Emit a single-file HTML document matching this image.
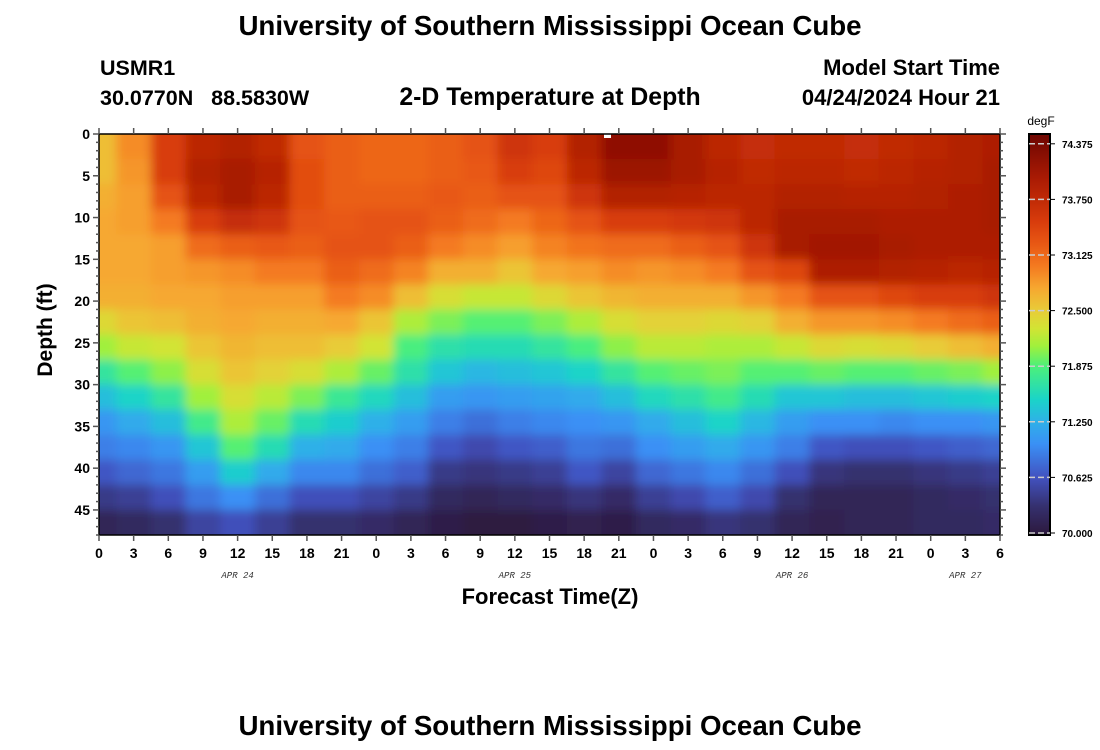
<!DOCTYPE html>
<html><head><meta charset="utf-8">
<style>
body{margin:0;background:#fff;}
svg{display:block;font-family:"Liberation Sans",sans-serif;}
</style></head>
<body>
<svg id="chart" width="1100" height="750" viewBox="0 0 1100 750" xmlns="http://www.w3.org/2000/svg">
<defs>
<clipPath id="plotclip"><rect x="99" y="134" width="901" height="401"/></clipPath>
<filter id="smooth" x="-5%" y="-5%" width="110%" height="110%"><feGaussianBlur stdDeviation="5"/></filter>
</defs>
<text x="550" y="35" text-anchor="middle" font-size="27.7" font-weight="bold">University of Southern Mississippi Ocean Cube</text>
<text x="100" y="75" font-size="21.5" font-weight="bold">USMR1</text>
<text x="100" y="105" font-size="21.5" font-weight="bold" xml:space="preserve">30.0770N   88.5830W</text>
<text x="550" y="105" text-anchor="middle" font-size="24.8" font-weight="bold">2-D Temperature at Depth</text>
<text x="1000" y="75" text-anchor="end" font-size="22" font-weight="bold">Model Start Time</text>
<text x="1000" y="105" text-anchor="end" font-size="22" font-weight="bold">04/24/2024 Hour 21</text>
<g clip-path="url(#plotclip)"><g id="cells" filter="url(#smooth)"></g></g>
<rect x="604" y="134" width="7" height="4" fill="#fff"/>
<rect x="99" y="134" width="901" height="401" fill="none" stroke="#000" stroke-width="1.5"/>
<g id="axes"></g>
<text transform="translate(52,330) rotate(-90)" text-anchor="middle" font-size="21" font-weight="bold">Depth (ft)</text>
<text x="550" y="604" text-anchor="middle" font-size="22" font-weight="bold">Forecast Time(Z)</text>
<g id="cbar"></g>
<text x="1041" y="125" text-anchor="middle" font-size="12">degF</text>
<text x="550" y="735" text-anchor="middle" font-size="27.7" font-weight="bold">University of Southern Mississippi Ocean Cube</text>
</svg>
<script>
const hours = [0,3,6,9,12,15,18,21,24,27,30,33,36,39,42,45,48,51,54,57,60,63,66,69,72,75,78];
const depths = [1.5,4.5,7.5,10.5,13.5,16.5,19.5,22.5,25.5,28.5,31.5,34.5,37.5,40.5,43.5,46.5];
const temps = [
[72.6,72.6,72.7,72.75,72.75,72.75,72.7,72.4,72.1,71.7,71.35,71.05,70.9,70.65,70.4,70.15],
[72.9,72.85,72.8,72.8,72.75,72.75,72.7,72.55,72.25,71.9,71.5,71.2,70.95,70.75,70.45,70.2],
[73.5,73.5,73.3,73.0,72.8,72.8,72.75,72.6,72.3,72.05,71.7,71.35,71.05,70.85,70.6,70.3],
[73.8,73.9,73.8,73.5,73.1,72.85,72.75,72.7,72.55,72.35,72.1,71.8,71.4,71.1,70.85,70.5],
[73.9,74.0,74.0,73.7,73.2,72.9,72.8,72.75,72.65,72.55,72.35,72.15,71.9,71.45,71.0,70.6],
[73.75,73.85,73.8,73.6,73.25,73.0,72.8,72.7,72.6,72.45,72.2,71.95,71.6,71.2,70.8,70.45],
[73.3,73.35,73.35,73.3,73.2,73.0,72.8,72.7,72.6,72.35,72.0,71.6,71.25,70.95,70.6,70.3],
[73.2,73.2,73.2,73.25,73.3,73.2,73.0,72.75,72.5,72.15,71.75,71.45,71.2,70.95,70.6,70.3],
[73.15,73.15,73.2,73.3,73.3,73.1,72.9,72.55,72.3,71.95,71.55,71.25,71.0,70.8,70.5,70.25],
[73.15,73.15,73.2,73.3,73.2,72.95,72.6,72.15,71.85,71.65,71.35,71.1,70.9,70.7,70.4,70.15],
[73.2,73.2,73.25,73.2,73.0,72.7,72.35,72.0,71.65,71.4,71.1,70.9,70.65,70.4,70.2,70.05],
[73.3,73.25,73.2,73.1,72.9,72.7,72.25,71.9,71.6,71.3,71.05,70.8,70.55,70.35,70.15,70.0],
[73.6,73.5,73.3,73.0,72.8,72.55,72.25,71.9,71.6,71.35,71.1,70.9,70.65,70.4,70.2,70.0],
[73.5,73.4,73.3,73.15,72.95,72.75,72.4,72.0,71.7,71.4,71.15,70.95,70.7,70.45,70.25,70.05],
[73.9,73.8,73.6,73.3,73.05,72.8,72.55,72.15,71.85,71.5,71.2,71.0,70.85,70.65,70.35,70.1],
[74.2,74.1,73.9,73.5,73.1,72.9,72.65,72.35,72.05,71.7,71.35,71.05,70.8,70.5,70.25,70.05],
[74.2,74.1,73.9,73.5,73.1,72.85,72.7,72.45,72.2,71.9,71.55,71.2,71.0,70.75,70.45,70.2],
[74.0,74.0,73.85,73.55,73.2,72.9,72.7,72.45,72.2,71.95,71.65,71.35,71.1,70.85,70.55,70.25],
[73.8,73.85,73.8,73.6,73.3,73.0,72.7,72.4,72.15,72.0,71.8,71.5,71.2,70.95,70.7,70.35],
[73.7,73.75,73.8,73.8,73.6,73.3,72.85,72.45,72.15,71.9,71.6,71.3,71.05,70.8,70.55,70.3],
[73.75,73.8,73.9,74.0,74.0,73.4,73.0,72.7,72.25,71.9,71.4,71.1,70.9,70.6,70.3,70.15],
[73.75,73.8,73.9,74.0,74.05,73.95,73.3,72.85,72.4,71.95,71.4,71.0,70.65,70.35,70.15,70.1],
[73.7,73.75,73.85,74.0,74.05,73.95,73.3,72.85,72.35,71.9,71.35,71.0,70.6,70.3,70.15,70.15],
[73.75,73.8,73.85,73.95,74.0,73.9,73.4,72.9,72.4,71.9,71.35,70.95,70.6,70.3,70.15,70.15],
[73.8,73.85,73.9,73.95,73.95,73.85,73.5,73.0,72.5,71.95,71.4,71.0,70.65,70.35,70.2,70.2],
[73.9,73.9,73.95,73.95,73.95,73.8,73.5,73.1,72.6,72.0,71.45,71.0,70.7,70.4,70.25,70.2],
[73.95,74.0,74.0,74.0,73.95,73.85,73.6,73.2,72.7,72.1,71.5,71.05,70.75,70.45,70.3,70.25]
];
const xTickHours = [0,3,6,9,12,15,18,21,24,27,30,33,36,39,42,45,48,51,54,57,60,63,66,69,72,75,78];
const xTickLabels = ["0","3","6","9","12","15","18","21","0","3","6","9","12","15","18","21","0","3","6","9","12","15","18","21","0","3","6"];
const dateHours = [12,36,60,75];
const dateLabels = ["APR 24","APR 25","APR 26","APR 27"];
const yTicks = [0,5,10,15,20,25,30,35,40,45];
const cbarTicks = [74.375,73.75,73.125,72.5,71.875,71.25,70.625,70.0];

const NS="http://www.w3.org/2000/svg";
const X0=99,X1=1000,Y0=134,Y1=535,TMAX=78,DMAX=48;
const xs=h=>X0+h*(X1-X0)/TMAX;
const ys=d=>Y0+d*(Y1-Y0)/DMAX;
const stops=[[69.9,[40,20,55]],[70.0,[45,26,64]],[70.3,[53,48,110]],[70.625,[66,82,192]],[71.0,[58,144,245]],[71.25,[47,176,232]],[71.5,[26,212,200]],[71.875,[76,240,122]],[72.1,[160,240,60]],[72.3,[210,228,52]],[72.5,[232,204,56]],[72.75,[246,168,48]],[73.0,[244,122,32]],[73.25,[232,88,20]],[73.5,[216,60,12]],[73.75,[192,42,6]],[74.0,[168,26,4]],[74.375,[122,10,2]],[74.6,[100,5,2]]];
function cmap(v){
  if(v<=stops[0][0])return `rgb(${stops[0][1]})`;
  for(let i=1;i<stops.length;i++){if(v<=stops[i][0]){const a=stops[i-1],b=stops[i],f=(v-a[0])/(b[0]-a[0]);
    return `rgb(${a[1].map((c,k)=>Math.round(c+(b[1][k]-c)*f)).join(',')})`;}}
  return `rgb(${stops[stops.length-1][1]})`;
}
function mk(tag,attrs,parent){const e=document.createElementNS(NS,tag);for(const k in attrs)e.setAttribute(k,attrs[k]);parent.appendChild(e);return e;}
const cells=document.getElementById('cells');
const PAD=20;
hours.forEach((h,i)=>{
  let xa=xs(Math.max(0,h-1.5)),xb=xs(Math.min(TMAX,h+1.5));
  if(i===0)xa-=PAD;
  if(i===hours.length-1)xb+=PAD;
  depths.forEach((d,j)=>{
    let ya=ys(d-1.5),yb=ys(d+1.5);
    if(j===0)ya-=PAD;
    if(j===depths.length-1)yb+=PAD;
    const r=mk('rect',{x:xa.toFixed(2),y:ya.toFixed(2),width:(xb-xa+0.6).toFixed(2),height:(yb-ya+0.6).toFixed(2),fill:cmap(temps[i][j])},cells);
    
    
  });
});
const ax=document.getElementById('axes');
for(let d=0;d<=DMAX;d++){
  const y=ys(d),len=d%5===0?6:3;
  mk('line',{x1:X0-len,x2:X0,y1:y,y2:y,stroke:'#555','stroke-width':1.5},ax);
  mk('line',{x1:X1,x2:X1+len,y1:y,y2:y,stroke:'#555','stroke-width':1.5},ax);
}
yTicks.forEach(d=>{
  const t=mk('text',{x:90,y:ys(d)+5,'text-anchor':'end','font-size':14,'font-weight':'bold'},ax);t.textContent=d;
  
  
});
xTickHours.forEach((h,i)=>{
  const x=xs(h);
  mk('line',{x1:x,x2:x,y1:Y0-6,y2:Y0,stroke:'#555','stroke-width':1.5},ax);
  mk('line',{x1:x,x2:x,y1:Y1,y2:Y1+6,stroke:'#555','stroke-width':1.5},ax);
  const t=mk('text',{x:x,y:558,'text-anchor':'middle','font-size':14,'font-weight':'bold'},ax);t.textContent=xTickLabels[i];
  
  
});
dateHours.forEach((h,i)=>{
  const t=mk('text',{x:xs(h),y:578,'text-anchor':'middle','font-size':9,'font-style':'italic','font-family':'Liberation Mono, monospace',fill:'#333'},ax);t.textContent=dateLabels[i];
  
  
});
const cb=document.getElementById('cbar');
const CB0=1029,CBW=21,cbY=v=>533-(v-70)/0.625*55.6;
for(let y=134;y<535;y++){
  const v=70+(533-(y+0.5))/55.6*0.625;
  mk('rect',{x:CB0,y:y,width:CBW,height:1.2,fill:cmap(v)},cb);
}
mk('rect',{x:CB0,y:134,width:CBW,height:401,fill:'none',stroke:'#000','stroke-width':2},cb);
cbarTicks.forEach(v=>{
  const y=cbY(v);
  mk('line',{x1:CB0,x2:CB0+CBW,y1:y,y2:y,stroke:'#ccc','stroke-width':1.5,'stroke-dasharray':'6,3'},cb);
  mk('line',{x1:CB0+CBW,x2:CB0+CBW+5,y1:y,y2:y,stroke:'#000','stroke-width':1},cb);
  const t=mk('text',{x:1062,y:y+4,'font-size':10,'font-weight':'bold'},cb);t.textContent=v.toFixed(3);
  
  
});
</script>
</body></html>
